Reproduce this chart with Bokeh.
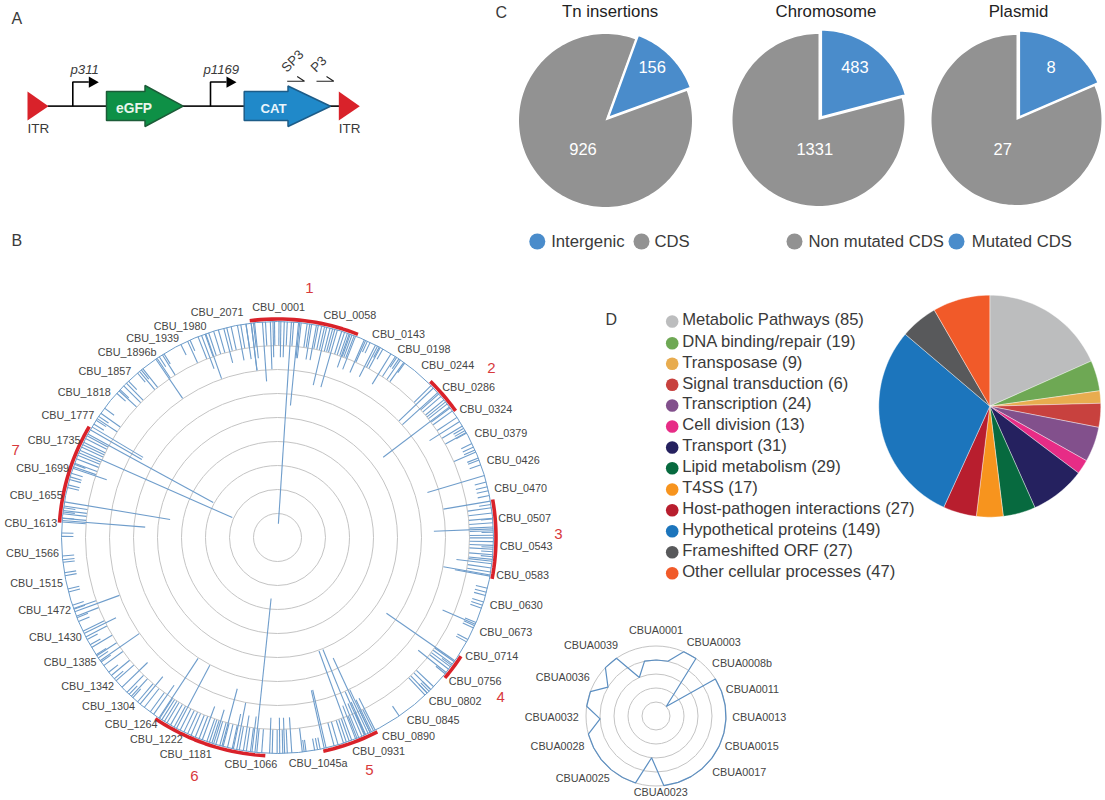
import math
from bokeh.plotting import figure
from bokeh.models import Range1d
from bokeh.core.properties import value
from bokeh.embed import file_html
from bokeh.resources import INLINE

# ---------- Panel B data: chromosome insertions ----------
gene_labels = ["CBU_0001","CBU_0058","CBU_0143","CBU_0198","CBU_0244","CBU_0286","CBU_0324","CBU_0379","CBU_0426","CBU_0470","CBU_0507","CBU_0543","CBU_0583","CBU_0630","CBU_0673","CBU_0714","CBU_0756","CBU_0802","CBU_0845","CBU_0890","CBU_0931","CBU_1045a","CBU_1066","CBU_1181","CBU_1222","CBU_1264","CBU_1304","CBU_1342","CBU_1385","CBU_1430","CBU_1472","CBU_1515","CBU_1566","CBU_1613","CBU_1655","CBU_1699","CBU_1735","CBU_1777","CBU_1818","CBU_1857","CBU_1896b","CBU_1939","CBU_1980","CBU_2071"]
gene_deg = [0.3,18,30.7,37.8,44.7,51.7,58.3,65,71.9,78.6,85.4,92,98.8,105.7,112.4,119,125.9,132.7,139.6,146.6,154.7,169.8,186.7,203,211,218.2,225,232,239,245.8,252.6,259.4,266.3,273.3,280,286.6,293.5,300.4,307,314,320.9,328,335.3,345]
gene_off = [231,234,237,239,242,243.5,245,246.5,248,248,248,248.7,248,248,247,245,244,241.6,240,238,236.6,229.6,227.6,235,235,236.8,239,241,242,243.5,244,245,245.5,247,245,245,243.6,243,242,240,238.5,235.6,233,233]

region_names = ["1","2","3","4","5","6","7"]
region_start = [-7.3,44.4,80,122.9,152.8,183.2,273.9]
region_end = [21.6,54.6,100.9,130,167.9,214,300.5]
region_label_deg = [7.3,51.7,89.2,125.5,158.4,199.2,288.4]
region_label_off = [252,272.7,281,274,249.6,253,276]

# spikes by number of insertions: position on the chromosome in degrees
spikes_1 = [24.6,25.4,28.1,29.2,33.5,34.2,36.1,59.6,60.3,61.1,64.2,65.2,66.1,68.4,69.0,70.3,75.1,76.4,77.5,78.8,81.2,85.1,88.6,92.6,93.8,95.1,103.6,104.7,105.6,107.4,108.3,109.1,113.2,114.1,114.8,118.2,118.9,126.3,129.1,134.8,135.4,136.1,145.7,168.6,169.3,170.1,172.4,172.9,222.1,223.4,229.1,231.4,234.8,236.1,237.1,240.2,241.8,247.1,248.2,250.6,251.7,255.4,256.2,259.8,260.6,263.4,264.1,265.1,270.3,271.2,275.2,276.8,277.9,283.4,284.1,285.6,286.3,287.3,289.8,301.7,302.9,304.1,306.8,311.9,313.2,316.4,319.6,320.9,326.8,328.3,333.4,336.1]
spikes_2 = [-6.4,-3.2,-0.8,0.4,2.6,4.3,7.9,8.6,10.9,11.8,12.6,14.1,14.8,15.4,17.3,18.1,18.9,19.7,20.2,20.8,24.1,27.6,28.4,33.1,34.7,35.8,45.3,48.3,49.2,50.4,51.1,51.8,53.1,54.1,56.2,58.9,60.9,66.7,82.1,83.5,84.9,86.1,87.2,88.2,89.4,90.1,91.1,92.1,93.1,94.6,95.8,96.3,98.1,99.2,125.1,125.9,126.8,127.6,133.7,134.8,136.1,136.9,153.6,154.6,156.1,158.4,160.6,161.4,162.2,163.7,164.8,173.4,177.4,178.6,180.1,181.4,184.2,185.5,187.2,188.3,190.2,192.1,193.4,194.6,195.5,196.6,197.7,198.4,199.1,201.3,202.4,203.6,204.6,205.7,206.8,208.6,209.7,210.8,211.6,212.4,213.1,216.1,218.1,220.4,222.6,224.2,228.4,230.3,233.6,236.8,239.4,242.6,244.3,248.6,250.8,274.1,275.1,276.3,277.2,278.4,289.1,290.1,291.4,292.4,293.1,294.8,295.5,296.2,297.3,298.1,303.4,305.1,312.8,314.6,315.6,320.3,321.4,326.1,327.8,335.4,338.4,340.4,341.4,342.8,344.1,346.4,347.6,350.2,351.6]
spikes_3 = [-8.4,-6.1,-1.2,0.9,1.8,5.9,6.3,9.1,10.4,19.4,21.2,23.7,27.0,31.7,57.5,97,100.3,113.7,128.7,153.1,154.2,155.9,157,158.8,176.2,178.1,179.4,182.1,186.8,189.1,191.8,197.2,200.4,215,219.5,226.1,243.6,288.7,339.4,345.6,349.3]
spikes_4 = [-7,-1.9,46.2,47.9,80.3,100,154.6,156.3,190.9,235.2,249.9,325.7,340.6,353]
spikes_5 = [-4,13.2,16.1,73.3,87.7,167,167.5,194.9,299.9,300.8]
spikes_6 = [207.9,213.3]
spikes_7 = [5.6,52.8,124.8,155.2,274.5]
spikes_8 = [157.9,159.9]
spikes_9 = [279.5]
spikes_12 = [298.6]
spikes_13 = [186]
spikes_14 = [293.8]
spikes_17 = [3.7]
spike_groups = [(1,spikes_1),(2,spikes_2),(3,spikes_3),(4,spikes_4),(5,spikes_5),(6,spikes_6),(7,spikes_7),(8,spikes_8),(9,spikes_9),(12,spikes_12),(13,spikes_13),(14,spikes_14),(17,spikes_17)]

# ---------- Plasmid profile ----------
plasmid_labels = ["CBUA0001","CBUA0003","CBUA0008b","CBUA0011","CBUA0013","CBUA0015","CBUA0017","CBUA0023","CBUA0025","CBUA0028","CBUA0032","CBUA0036","CBUA0039"]
plasmid_label_deg = [0,38,58.5,74.3,90.6,107.5,124,176.5,229.9,252.8,269.4,292.9,317.3]
plasmid_label_off = [86.5,93.7,101,100.2,103.3,100.3,100.3,76.3,95.9,103,104.3,101.3,96]
plasmid_deg = [0.5,12.2,23.4,34.8,47,58,69.5,81,92.5,104,115.5,127,138.5,150,161.5,173.6,186,197,208.5,220,231.5,243,255,267,278,290.4,301,313.7,325.6,336.6,348.2]
plasmid_val = [4,4,5,5,1,5,5,5,5,5,5,5,5,5,5,5,3,5,5,5,5,5,5,4,5,5,4,5,5,3,4]

# ---------- Panel C data ----------
pie_titles = ["Tn insertions","Chromosome","Plasmid"]
pie_blue_labels = ["156","483","8"]
pie_grey_labels = ["926","1331","27"]
pie_blue_start = [20,0,0]
pie_blue_sweep = [50,75.3,66.6]

# ---------- Panel D data ----------
func_labels = ["Metabolic Pathways (85)","DNA binding/repair (19)","Transposase (9)","Signal transduction (6)","Transcription (24)","Cell division (13)","Transport (31)","Lipid metabolism (29)","T4SS (17)","Host-pathogen interactions (27)","Hypothetical proteins (149)","Frameshifted ORF (27)","Other cellular processes (47)"]
func_sweep = [66,16,6.5,12.5,18.4,7.6,29,17,14,17.5,105.9,19.6,30]
func_colors = ["#bcbdbe","#6ea854","#e8ac4f","#c8413e","#82508c","#e72c86","#25215f","#076a3f","#f7941e","#b81e2e","#1c75bc","#58595b","#f15a29"]

# ---------- Panel A data ----------
construct_names = ["eGFP","CAT"]

W, H = 1105, 800
p = figure(width=W, height=H, output_backend="svg", toolbar_location=None,
           x_range=Range1d(0, W), y_range=Range1d(H, 0),
           x_axis_type=None, y_axis_type=None, min_border=0)
p.grid.visible = False
p.outline_line_color = None
p.background_fill_color = "white"

FONT = value("Liberation Sans")
TXT = "#3a3a3a"

def polar(cx, cy, deg, r):
    a = math.radians(deg)
    return cx + r * math.sin(a), cy - r * math.cos(a)

def txt(x, y, s, size, color=TXT, align="left", style="normal", angle=0):
    p.text(x=[x], y=[y], text=[s], text_font=FONT, text_font_size=f"{size}px",
           text_color=color, text_align=align, text_baseline="middle",
           text_font_style=style, angle=angle)

def wedge(cx, cy, r, start, sweep, color, line=None, lw=0):
    n = max(2, int(sweep / 2))
    pts = [polar(cx, cy, start + sweep * i / n, r) for i in range(n + 1)]
    xs = [cx] + [q[0] for q in pts]
    ys = [cy] + [q[1] for q in pts]
    p.patch(xs, ys, fill_color=color, line_color=line, line_width=lw)

# ---- Panel A ----
RED = "#d9222a"
txt(11, 18, "A", 16)
txt(11, 240, "B", 16)
txt(495, 12, "C", 16)
txt(605, 319, "D", 16)
p.line([47, 340], [105.7, 105.7], line_color="#1a1a1a", line_width=1.8)
for px, tip in [(72.3, 88.3), (210, 226)]:
    p.line([px, px, tip], [105.7, 81.5, 81.5], line_color="black", line_width=1.6)
    p.patch([tip, tip + 10, tip], [76, 81.7, 87.3], fill_color="black", line_color=None)
for x0 in (27, 338.3):
    p.patch([x0, x0 + 21, x0], [91, 105.7, 120], fill_color=RED, line_color=None)
    txt(x0, 128, "ITR", 13.5)
p.patch([106, 144.5, 144.5, 182.7, 144.5, 144.5, 106], [91, 91, 85, 105.7, 126, 120, 120],
        fill_color="#0e9046", line_color="#1c5c38", line_width=1.5)
p.patch([243.7, 287.5, 287.5, 330, 287.5, 287.5, 243.7], [91, 91, 85.5, 105.7, 126, 120, 120],
        fill_color="#2089c9", line_color="#1d5c88", line_width=1.5)
txt(133.5, 107.5, construct_names[0], 13.8, color="#e9f5ec", align="center", style="bold")
txt(273, 107.5, construct_names[1], 13.2, color="#eaf5fb", align="center", style="bold")
txt(70, 68.5, "p311", 13.2, style="italic")
txt(203, 68.5, "p1169", 13.2, style="italic")
txt(292, 60.5, "SP3", 13.2, align="center", angle=math.radians(45))
txt(318, 63.5, "P3", 13.2, align="center", angle=math.radians(45))
for x0 in (286.7, 316):
    p.line([x0, x0 + 17.3, x0 + 10], [80.7, 80.7, 76], line_color="#222", line_width=1.1)

# ---- Panel B ----
BC = (277, 537)
RINGSTEP = 24
p.circle(x=[BC[0]] * 8, y=[BC[1]] * 8, radius=[RINGSTEP * i for i in range(1, 9)],
         fill_color=None, line_color="#c4c4c4", line_width=1)
p.circle(x=[BC[0]], y=[BC[1]], radius=[216], fill_color=None, line_color="#6d9cc9", line_width=1)
x0, y0, x1, y1 = [], [], [], []
for count, degs in spike_groups:
    for d in degs:
        a = polar(BC[0], BC[1], d, 216)
        b = polar(BC[0], BC[1], d, 216 - 11.9 * count)
        x0.append(a[0]); y0.append(a[1]); x1.append(b[0]); y1.append(b[1])
p.segment(x0, y0, x1, y1, line_color="#6f9dcb", line_width=1.1)
for s, e in zip(region_start, region_end):
    n = int((e - s) / 1.5) + 1
    pts = [polar(BC[0], BC[1], s + (e - s) * i / n, 218.5) for i in range(n + 1)]
    p.line([q[0] for q in pts], [q[1] for q in pts], line_color=RED, line_width=3.6)
for s, d, r in zip(gene_labels, gene_deg, gene_off):
    q = polar(BC[0], BC[1], d, r)
    txt(q[0], q[1], s, 10.8, align="center", color="#454545")
for s, d, r in zip(region_names, region_label_deg, region_label_off):
    q = polar(BC[0], BC[1], d, r)
    txt(q[0], q[1], s, 15, align="center", color="#d8393c")

# plasmid
PC = (655.5, 715.5)
p.circle(x=[PC[0]] * 5, y=[PC[1]] * 5, radius=[14 * i for i in range(1, 6)],
         fill_color=None, line_color="#c4c4c4", line_width=1)
pts = [polar(PC[0], PC[1], d, 14 * v) for d, v in zip(plasmid_deg, plasmid_val)]
pts.append(pts[0])
p.line([q[0] for q in pts], [q[1] for q in pts], line_color="#5c8fc2", line_width=1.2)
for s, d, r in zip(plasmid_labels, plasmid_label_deg, plasmid_label_off):
    q = polar(PC[0], PC[1], d, r)
    txt(q[0], q[1], s, 10.8, align="center", color="#454545")

# ---- Panel C ----
GREY = "#929292"
BLUE = "#4a8ccb"
centers = [(605, 120, 86.5), (818, 119.5, 86), (1016, 119.5, 85)]
title_x = [609.6, 825.4, 1018]
blue_txt = [(651.7, 66.7), (854.4, 66.7), (1050.7, 66.7)]
grey_txt = [(582.5, 148.3), (814.3, 148.3), (1002.3, 148.3)]
for i in range(3):
    cx, cy, r = centers[i]
    st, sw = pie_blue_start[i], pie_blue_sweep[i]
    wedge(cx, cy, r, st + sw, 360 - sw, GREY)
    wedge(cx + 2.6, cy - 2.8, r + 1.5, st, sw, BLUE, line="white", lw=2)
    txt(title_x[i], 11, pie_titles[i], 16.8, align="center", color="#222")
    txt(blue_txt[i][0], blue_txt[i][1], pie_blue_labels[i], 16.5, color="white", align="center")
    txt(grey_txt[i][0], grey_txt[i][1], pie_grey_labels[i], 16.5, color="white", align="center")
legend_c = [(536.8, BLUE, "Intergenic", 550.7), (641, GREY, "CDS", 654),
            (794, GREY, "Non mutated CDS", 808), (956, BLUE, "Mutated CDS", 971.3)]
for x, col, s, tx in legend_c:
    p.circle(x=[x], y=[241], radius=[8], fill_color=col, line_color=None)
    txt(tx, 241, s, 16.7)

# ---- Panel D ----
DC = (989.3, 405.7)
start = 0
for sw, col in zip(func_sweep, func_colors):
    wedge(DC[0], DC[1], 111, start, sw, col, line="white", lw=0.4)
    start += sw
legend_y = [321, 342.7, 363.3, 384.3, 405, 426, 447, 467.7, 489, 509.7, 530.7, 551.7, 572.7]
for y, s, col in zip(legend_y, func_labels, func_colors):
    p.circle(x=[671.7], y=[y], radius=[6.3], fill_color=col, line_color=None)
    txt(681.7, y - 1.6, s, 16.6)

open("out.html", "w").write(file_html(p, INLINE))
